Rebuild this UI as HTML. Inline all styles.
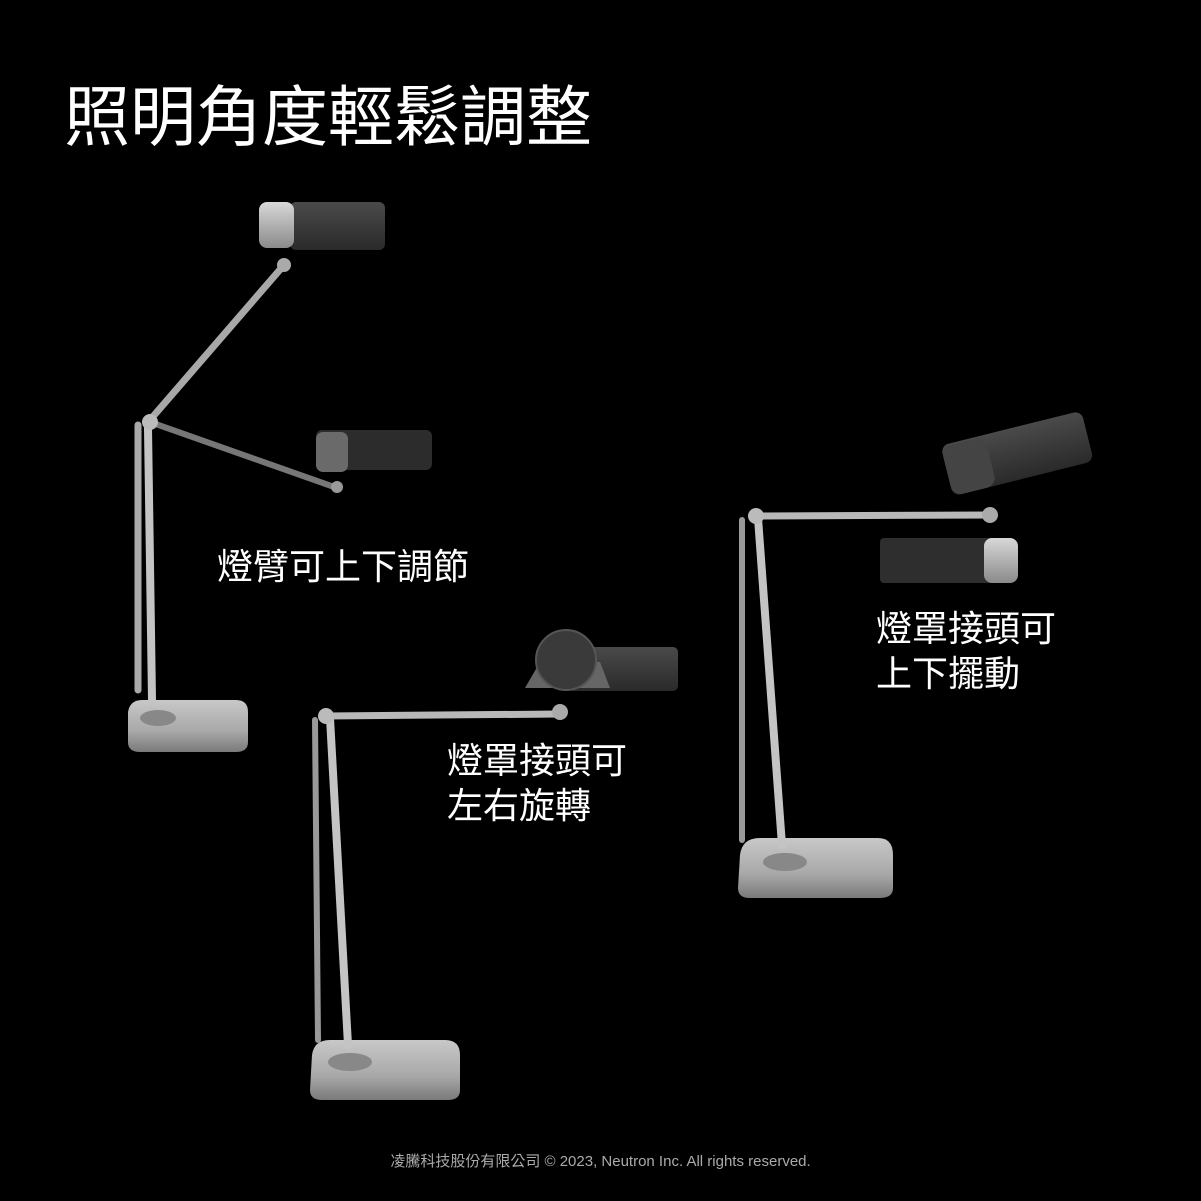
<!DOCTYPE html>
<html><head><meta charset="utf-8"><style>
html,body{margin:0;padding:0;background:#000;}
body{width:1201px;height:1201px;position:relative;overflow:hidden;font-family:"Liberation Sans","Noto Sans CJK TC",sans-serif;color:#fff;}
.t{position:absolute;white-space:nowrap;}
svg{position:absolute;left:0;top:0;}
</style></head><body>
<svg width="1201" height="1201" viewBox="0 0 1201 1201">
<defs>
<linearGradient id="sil" x1="0" y1="0" x2="0" y2="1"><stop offset="0" stop-color="#d8d8d8"/><stop offset="1" stop-color="#8a8a8a"/></linearGradient>
<linearGradient id="base" x1="0" y1="0" x2="0" y2="1"><stop offset="0" stop-color="#c8c8c8"/><stop offset="0.6" stop-color="#a8a8a8"/><stop offset="1" stop-color="#7a7a7a"/></linearGradient>
<linearGradient id="dk" x1="0" y1="0" x2="0" y2="1"><stop offset="0" stop-color="#4a4a4a"/><stop offset="1" stop-color="#2a2a2a"/></linearGradient>
</defs>
<g stroke-linecap="round">
<path d="M128 712 Q130 700 142 700 L236 700 Q248 700 248 712 L248 742 Q248 752 236 752 L140 752 Q128 752 128 742Z" fill="url(#base)"/>
<ellipse cx="158" cy="718" rx="18" ry="8" fill="#888"/>
<line x1="138" y1="690" x2="138" y2="425" stroke="#aaa" stroke-width="7"/>
<line x1="152" y1="700" x2="148" y2="428" stroke="#c4c4c4" stroke-width="8"/>
<line x1="150" y1="420" x2="284" y2="265" stroke="#a8a8a8" stroke-width="7"/>
<line x1="150" y1="422" x2="337" y2="488" stroke="#777" stroke-width="6"/>
<circle cx="150" cy="422" r="8" fill="#bbb"/>
<circle cx="284" cy="265" r="7" fill="#aaa"/>
<circle cx="337" cy="487" r="6" fill="#999"/>
<rect x="290" y="202" width="95" height="48" rx="6" fill="url(#dk)"/>
<rect x="259" y="202" width="35" height="46" rx="8" fill="url(#sil)"/>
<rect x="316" y="430" width="116" height="40" rx="6" fill="#2c2c2c"/>
<rect x="316" y="432" width="32" height="40" rx="7" fill="#6a6a6a"/>
<path d="M312 1055 Q314 1040 330 1040 L445 1040 Q460 1040 460 1055 L460 1090 Q460 1100 448 1100 L322 1100 Q310 1100 310 1090Z" fill="url(#base)"/>
<ellipse cx="350" cy="1062" rx="22" ry="9" fill="#888"/>
<line x1="318" y1="1040" x2="315" y2="720" stroke="#999" stroke-width="6"/>
<line x1="348" y1="1045" x2="330" y2="718" stroke="#c4c4c4" stroke-width="8"/>
<line x1="326" y1="716" x2="560" y2="714" stroke="#b8b8b8" stroke-width="7"/>
<circle cx="326" cy="716" r="8" fill="#bbb"/>
<circle cx="560" cy="712" r="8" fill="#aaa"/>
<rect x="568" y="647" width="110" height="44" rx="5" fill="url(#dk)"/>
<path d="M525 688 L540 662 L600 662 L610 688Z" fill="#666"/>
<circle cx="566" cy="660" r="30" fill="#3a3a3a" stroke="#555" stroke-width="2"/>
<path d="M740 855 Q742 838 760 838 L878 838 Q893 838 893 855 L893 888 Q893 898 880 898 L750 898 Q738 898 738 888Z" fill="url(#base)"/>
<ellipse cx="785" cy="862" rx="22" ry="9" fill="#888"/>
<line x1="742" y1="840" x2="742" y2="520" stroke="#999" stroke-width="6"/>
<line x1="782" y1="845" x2="758" y2="518" stroke="#c4c4c4" stroke-width="8"/>
<line x1="752" y1="516" x2="990" y2="515" stroke="#b8b8b8" stroke-width="7"/>
<circle cx="756" cy="516" r="8" fill="#bbb"/>
<circle cx="990" cy="515" r="8" fill="#aaa"/>
<g transform="rotate(-14 1015 455)"><rect x="945" y="428" width="145" height="52" rx="8" fill="url(#dk)"/><rect x="945" y="430" width="45" height="50" rx="10" fill="#444"/></g>
<rect x="880" y="538" width="115" height="45" rx="4" fill="#2e2e2e"/>
<rect x="984" y="538" width="34" height="45" rx="8" fill="url(#sil)"/>
</g>
</svg>
<div class="t" style="left:64px;top:64px;font-size:66px;">照明角度輕鬆調整</div>
<div class="t" style="left:217px;top:538px;font-size:36px;">燈臂可上下調節</div>
<div class="t" style="left:447px;top:738px;font-size:36px;line-height:45px;">燈罩接頭可<br>左右旋轉</div>
<div class="t" style="left:876px;top:606px;font-size:36px;line-height:45px;">燈罩接頭可<br>上下擺動</div>
<div class="t" style="left:0;width:1201px;text-align:center;top:1150px;font-size:15px;color:#aaa;">凌騰科技股份有限公司 © 2023, Neutron Inc. All rights reserved.</div>
</body></html>
